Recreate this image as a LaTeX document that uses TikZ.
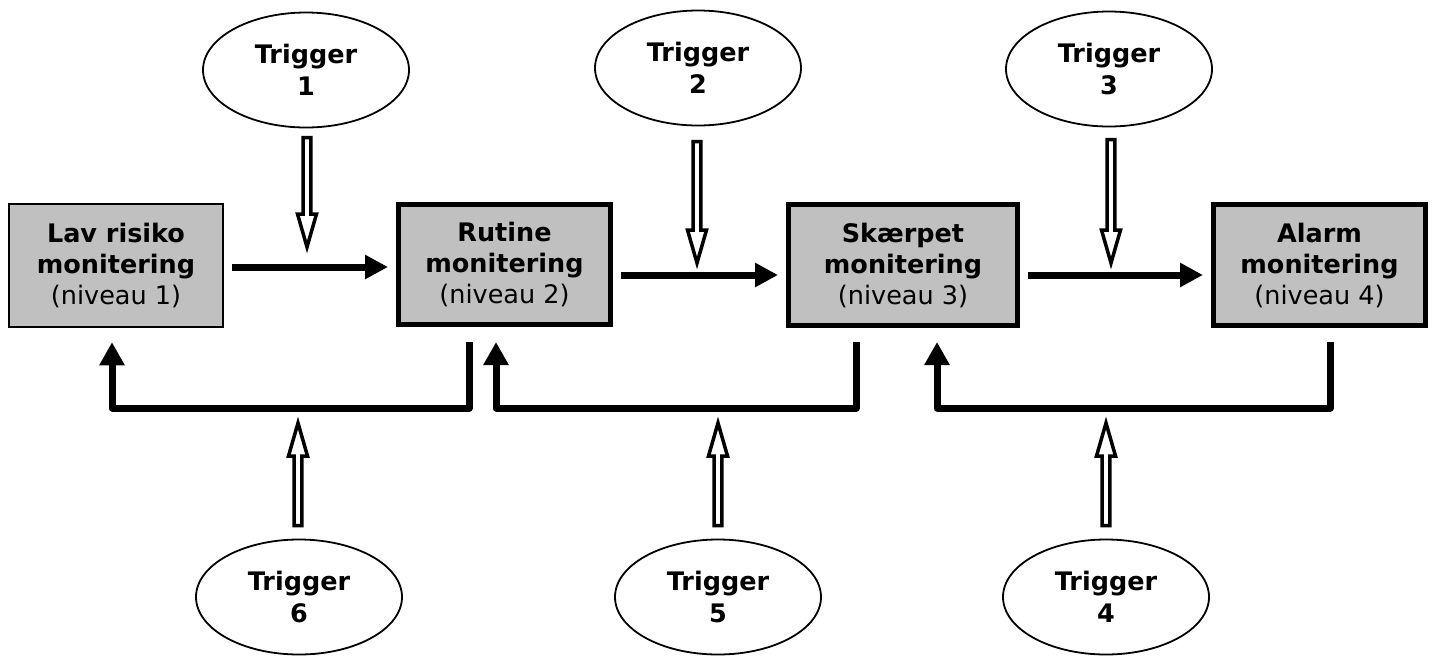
\documentclass[tikz,border=0pt]{standalone}
\usepackage{fontspec}
\setmainfont{DejaVu Sans}
\usetikzlibrary{shapes.geometric,arrows.meta,calc}
\definecolor{boxgray}{HTML}{C0C0C0}
\newcommand\hdown[2]{\path[hollow] ($(#1)+(-3.8,0)$) -- ($(#2)+(-3.8,-33)$) -- ($(#2)+(-9.5,-33)$) -- (#2) -- ($(#2)+(9.5,-33)$) -- ($(#2)+(3.8,-33)$) -- ($(#1)+(3.8,0)$) -- cycle;}
\newcommand\hup[2]{\path[hollow] ($(#1)+(-3.8,0)$) -- ($(#2)+(-3.8,33)$) -- ($(#2)+(-9.5,33)$) -- (#2) -- ($(#2)+(9.5,33)$) -- ($(#2)+(3.8,33)$) -- ($(#1)+(3.8,0)$) -- cycle;}
\begin{document}
\begin{tikzpicture}[x=1pt,y=-1pt,
  box/.style={draw, line width=5pt, fill=boxgray, align=center, inner sep=0pt,
    font=\fontsize{25.5}{31}\selectfont},
  trig/.style={ellipse, draw, line width=1.8pt, align=center, inner sep=0pt,
    minimum width=206pt, minimum height=115pt,
    font=\fontsize{25.5}{32}\selectfont\bfseries},
  mainarr/.style={line width=7pt, -{Triangle[length=23pt,width=23pt]}},
  fb/.style={line width=7pt, line join=round, -{Triangle[length=23pt,width=24pt]}},
  hollow/.style={draw, fill=white, line width=3.5pt, line join=miter}]
\useasboundingbox (0,0) rectangle (1434,657);

% boxes
\node[box, line width=2.5pt, minimum width=214pt, minimum height=123pt] (b1) at (116,265.5)
  {\textbf{Lav risiko}\\\textbf{monitering}\\(niveau 1)};
\node[box, minimum width=212pt, minimum height=120pt] (b2) at (504.5,264.5)
  {\textbf{Rutine}\\\textbf{monitering}\\(niveau 2)};
\node[box, minimum width=229pt, minimum height=121pt] (b3) at (903,265)
  {\textbf{Skærpet}\\\textbf{monitering}\\(niveau 3)};
\node[box, minimum width=212pt, minimum height=121pt] (b4) at (1319.5,265)
  {\textbf{Alarm}\\\textbf{monitering}\\(niveau 4)};

% triggers
\node[trig] (t1) at (306,70) {Trigger\\1};
\node[trig] (t2) at (698,68) {Trigger\\2};
\node[trig] (t3) at (1109,69) {Trigger\\3};
\node[trig] (t6) at (299,597) {Trigger\\6};
\node[trig] (t5) at (718,597) {Trigger\\5};
\node[trig] (t4) at (1106,597) {Trigger\\4};

% main forward arrows
\draw[mainarr] ([xshift=8pt,yshift=-1.5pt]b1.east) -- ([xshift=-8pt,yshift=-1.5pt]b1.east -| b2.west);
\draw[mainarr] ([xshift=8pt,yshift=-10.5pt]b2.east) -- ([xshift=-8pt,yshift=-10.5pt]b2.east -| b3.west);
\draw[mainarr] ([xshift=8pt,yshift=-10pt]b3.east) -- ([xshift=-8pt,yshift=-10pt]b3.east -| b4.west);

% feedback connectors
\draw[fb] ([yshift=-15pt]b2.south -| 469,0) -- ++(0,66) -| ([yshift=-14pt]b1.south -| 112,0);
\draw[fb] ([yshift=-14pt]b3.south -| 856,0) -- ++(0,66) -| ([yshift=-15pt]b2.south -| 496,0);
\draw[fb] ([yshift=-14pt]b4.south -| 1330,0) -- ++(0,66) -| ([yshift=-14pt]b3.south -| 937,0);

% hollow trigger arrows
\coordinate (h1s) at (307,137.5);  \coordinate (h1e) at (307,247);
\coordinate (h2s) at (697,141.5);  \coordinate (h2e) at (697,263);
\coordinate (h3s) at (1111,139.5); \coordinate (h3e) at (1111,263);
\coordinate (h6s) at (298,525.5);  \coordinate (h6e) at (298,423);
\coordinate (h5s) at (718,525.5);  \coordinate (h5e) at (718,423);
\coordinate (h4s) at (1106,525.5); \coordinate (h4e) at (1106,423);
\hdown{h1s}{h1e}
\hdown{h2s}{h2e}
\hdown{h3s}{h3e}
\hup{h6s}{h6e}
\hup{h5s}{h5e}
\hup{h4s}{h4e}
\end{tikzpicture}
\end{document}
